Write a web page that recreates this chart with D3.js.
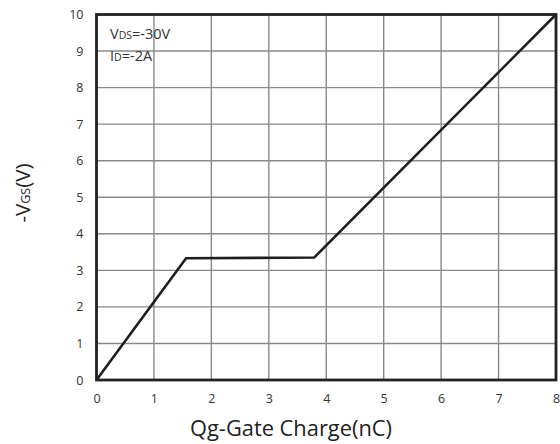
<!DOCTYPE html>
<html><head><meta charset="utf-8">
<script src="https://cdn.jsdelivr.net/npm/d3@7"></script>
<style>body{margin:0;background:#fff}</style>
</head><body><svg id="c" width="560" height="444"></svg>
<script>
const xTicks = [0,1,2,3,4,5,6,7,8];
const yTicks = [0,1,2,3,4,5,6,7,8,9,10];
const qg = [0, 1.56, 3.79, 8];
const vgs = [0, 3.33, 3.35, 10];

const svg = d3.select("#c");
const L=96.5, R=556, T=14.5, B=380;
const x = d3.scaleLinear().domain([0,8]).range([L,R]);
const y = d3.scaleLinear().domain([0,10]).range([B,T]);
const font = "'Open Sans', Lato, sans-serif";

const g = svg.append("g");
g.selectAll(".vg").data(xTicks).enter().append("line")
 .attr("x1",d=>x(d)).attr("x2",d=>x(d)).attr("y1",T).attr("y2",B)
 .attr("stroke","#8a8a8a").attr("stroke-width",1.4);
g.selectAll(".hg").data(yTicks).enter().append("line")
 .attr("y1",d=>y(d)).attr("y2",d=>y(d)).attr("x1",L).attr("x2",R)
 .attr("stroke","#8a8a8a").attr("stroke-width",1.4);

const line = d3.line().x(d=>x(d[0])).y(d=>y(d[1]));
svg.append("path").datum(qg.map((q,i)=>[q,vgs[i]]))
 .attr("d",line).attr("fill","none").attr("stroke","#1e1e1e").attr("stroke-width",2.6)
 .attr("stroke-linejoin","miter");

svg.append("rect").attr("x",L).attr("y",T).attr("width",R-L).attr("height",B-T)
 .attr("fill","none").attr("stroke","#222").attr("stroke-width",2.8);

const xa = d3.axisBottom(x).tickValues(xTicks).tickSize(0).tickPadding(14);
const xg = svg.append("g").attr("transform",`translate(0,${B})`).call(xa);
xg.select(".domain").remove();
xg.selectAll("text").attr("font-family",font).attr("font-size",12.5).attr("fill","#333");

const ya = d3.axisLeft(y).tickValues(yTicks).tickSize(0).tickPadding(13);
const yg = svg.append("g").attr("transform",`translate(${L},0)`).call(ya);
yg.select(".domain").remove();
yg.selectAll("text").attr("font-family",font).attr("font-size",12.5).attr("fill","#333");

svg.append("text").attr("x",291).attr("y",436).attr("text-anchor","middle")
 .attr("font-family",font).attr("font-size",21.5).attr("fill","#222")
 .attr("textLength",202).attr("lengthAdjust","spacingAndGlyphs")
 .text("Qg-Gate Charge(nC)");

const yt = svg.append("text").attr("transform","translate(30,193) rotate(-90)")
 .attr("text-anchor","middle").attr("font-family",font).attr("fill","#222").attr("font-size",20.5);
yt.append("tspan").text("-V");
yt.append("tspan").attr("font-size",12.5).text("GS");
yt.append("tspan").text("(V)");

const a1 = svg.append("text").attr("x",110).attr("y",39).attr("font-family",font).attr("font-size",14.5).attr("fill","#333");
a1.append("tspan").text("V");
a1.append("tspan").attr("font-size",10.5).text("DS");
a1.append("tspan").text("=-30V");
const a2 = svg.append("text").attr("x",110).attr("y",61).attr("font-family",font).attr("font-size",14.5).attr("fill","#333");
a2.append("tspan").text("I");
a2.append("tspan").attr("font-size",10.5).text("D");
a2.append("tspan").text("=-2A");
</script></body></html>
